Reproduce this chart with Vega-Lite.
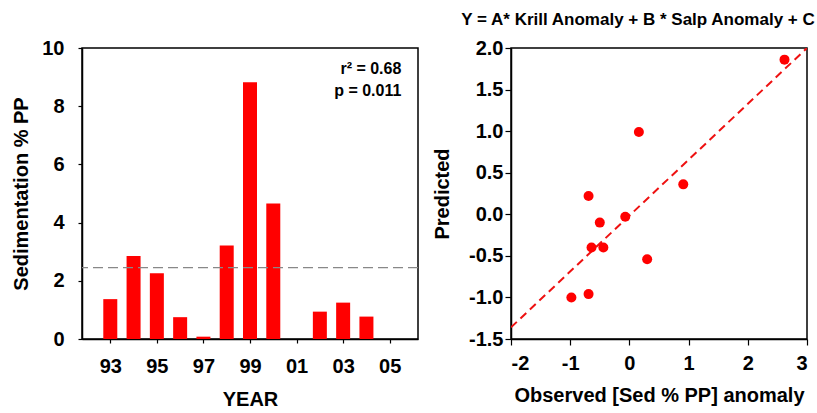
{
  "$schema": "https://vega.github.io/schema/vega-lite/v6.json",
  "background": "white",
  "padding": {"left": 11, "top": 10, "right": 4, "bottom": 2},
  "spacing": 11,
  "config": {
    "font": "Liberation Sans",
    "view": {"stroke": "black", "strokeWidth": 1.5},
    "axis": {
      "grid": false,
      "domainColor": "black",
      "domainWidth": 1.5,
      "tickColor": "black",
      "tickWidth": 1.2,
      "labelFont": "Liberation Sans",
      "labelFontWeight": "bold",
      "labelFontSize": 20,
      "labelColor": "black",
      "titleFont": "Liberation Sans",
      "titleFontWeight": "bold",
      "titleFontSize": 20,
      "titleColor": "black"
    },
    "title": {"font": "Liberation Sans", "fontWeight": "bold", "fontSize": 17, "color": "black"}
  },
  "datasets": {
    "sed": [
      {"year": 1993, "sed": 1.37},
      {"year": 1994, "sed": 2.85},
      {"year": 1995, "sed": 2.26},
      {"year": 1996, "sed": 0.75},
      {"year": 1997, "sed": 0.08},
      {"year": 1998, "sed": 3.21},
      {"year": 1999, "sed": 8.82},
      {"year": 2000, "sed": 4.66},
      {"year": 2002, "sed": 0.94},
      {"year": 2003, "sed": 1.25},
      {"year": 2004, "sed": 0.77}
    ],
    "pred": [
      {"observed": 2.62, "predicted": 1.86},
      {"observed": 0.16, "predicted": 0.99},
      {"observed": 0.91, "predicted": 0.36},
      {"observed": -0.69, "predicted": 0.22},
      {"observed": -0.5, "predicted": -0.1},
      {"observed": -0.07, "predicted": -0.03},
      {"observed": -0.64, "predicted": -0.4},
      {"observed": -0.44, "predicted": -0.4},
      {"observed": 0.3, "predicted": -0.54},
      {"observed": -0.98, "predicted": -1.0},
      {"observed": -0.69, "predicted": -0.96}
    ],
    "fit": [
      {"observed": -2, "predicted": -1.36},
      {"observed": 3, "predicted": 2.0}
    ],
    "stats": [
      {"label": "r² = 0.68", "xpos": 2005.5, "ypos": 9.28},
      {"label": "p = 0.011", "xpos": 2005.5, "ypos": 8.52}
    ],
    "mean": [{"mean": 2.45}]
  },
  "hconcat": [
    {
      "width": 336,
      "height": 291,
      "layer": [
        {
          "data": {"name": "sed"},
          "mark": {"type": "bar", "width": 14, "color": "#ff0000"},
          "encoding": {
            "x": {
              "field": "year",
              "type": "quantitative",
              "scale": {"domain": [1992, 2006], "nice": false, "zero": false},
              "axis": {
                "title": "YEAR",
                "values": [1993, 1995, 1997, 1999, 2001, 2003, 2005],
                "labelExpr": "substring(toString(datum.value), 2)",
                "tickSize": 4,
                "labelPadding": 13,
                "titlePadding": 13
              }
            },
            "y": {
              "field": "sed",
              "type": "quantitative",
              "scale": {"domain": [0, 10], "nice": false},
              "axis": {
                "title": "Sedimentation % PP",
                "values": [0, 2, 4, 6, 8, 10],
                "tickSize": 4,
                "labelPadding": 14,
                "titlePadding": 10
              }
            }
          }
        },
        {
          "data": {"name": "mean"},
          "mark": {"type": "rule", "color": "#888888", "strokeWidth": 1.2, "strokeDash": [10, 5]},
          "encoding": {"y": {"field": "mean", "type": "quantitative"}}
        },
        {
          "data": {"name": "stats"},
          "mark": {"type": "text", "align": "right", "baseline": "middle", "fontSize": 16, "fontWeight": "bold", "font": "Liberation Sans", "color": "black"},
          "encoding": {
            "x": {"field": "xpos", "type": "quantitative"},
            "y": {"field": "ypos", "type": "quantitative"},
            "text": {"field": "label"}
          }
        }
      ]
    },
    {
      "width": 296,
      "height": 291,
      "title": {"text": "Y = A* Krill Anomaly + B * Salp Anomaly + C", "offset": 9, "anchor": "middle", "frame": "group", "dx": -21},
      "layer": [
        {
          "data": {"name": "fit"},
          "mark": {"type": "line", "color": "#ee1111", "strokeWidth": 2, "strokeDash": [8, 5], "clip": true},
          "encoding": {
            "x": {"field": "observed", "type": "quantitative"},
            "y": {"field": "predicted", "type": "quantitative"}
          }
        },
        {
          "data": {"name": "pred"},
          "mark": {"type": "point", "filled": true, "size": 100, "opacity": 1, "color": "#ff0000"},
          "encoding": {
            "x": {
              "field": "observed",
              "type": "quantitative",
              "scale": {"domain": [-2, 3], "nice": false},
              "axis": {
                "title": "Observed [Sed % PP] anomaly",
                "values": [-2, -1, 0, 1, 2, 3],
                "labelExpr": "(datum.value < 0 ? '-' : '') + format(abs(datum.value), 'd')",
                "tickSize": 6,
                "labelPadding": 8,
                "titlePadding": 12
              }
            },
            "y": {
              "field": "predicted",
              "type": "quantitative",
              "scale": {"domain": [-1.5, 2.0], "nice": false},
              "axis": {
                "title": "Predicted",
                "values": [-1.5, -1, -0.5, 0, 0.5, 1, 1.5, 2],
                "labelExpr": "(datum.value < 0 ? '-' : '') + format(abs(datum.value), '.1f')",
                "tickSize": 6,
                "labelPadding": 2,
                "titlePadding": 16
              }
            }
          }
        }
      ]
    }
  ]
}
